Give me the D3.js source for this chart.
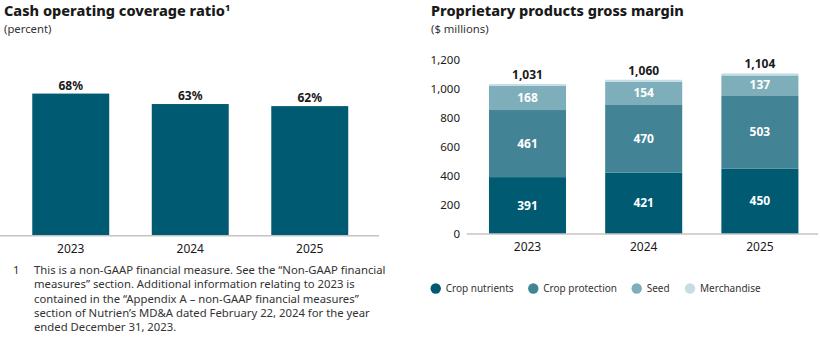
<!DOCTYPE html>
<meta charset="utf-8">
<style>
body{ margin:0; background-color:white; }
text{ font-family:"Noto Sans", "Open Sans", sans-serif; }
</style>
<body>
<svg class="chart"></svg>
<script src="https://cdn.jsdelivr.net/npm/d3@7"></script>
<script>
// left chart data
var years = ["2023", "2024", "2025"];
var coverage = [68, 63, 62];

// right chart data
var seriesNames = ["Crop nutrients", "Crop protection", "Seed", "Merchandise"];
var cropNutrients = [391, 421, 450];
var cropProtection = [461, 470, 503];
var seed = [168, 154, 137];
var merchandise = [11, 15, 14];
var totals = [1031, 1060, 1104];
var yTicks = [0, 200, 400, 600, 800, 1000, 1200];

var colors = ["#005a72", "#428396", "#7eaeba", "#c5dde3"];

var footnote = [
  "This is a non-GAAP financial measure. See the \u201cNon-GAAP financial",
  "measures\u201d section. Additional information relating to 2023 is",
  "contained in the \u201cAppendix A \u2013 non-GAAP financial measures\u201d",
  "section of Nutrien\u2019s MD&A dated February 22, 2024 for the year",
  "ended December 31, 2023."
];

var svg = d3.select("svg").attr("width", 820).attr("height", 337);

drawLeft();
drawRight();

function drawLeft () {
  var g = svg.append("g");

  g.append("text").attr("x", 4).attr("y", 16)
    .attr("font-size", "14.5px").attr("font-weight", 800).attr("fill", "#1a1a1a")
    .text("Cash operating coverage ratio")
    .append("tspan").attr("font-size", "9px").attr("dy", -5).text("1");
  g.append("text").attr("x", 4).attr("y", 32.5)
    .attr("font-size", "11.3px").attr("fill", "#333").text("(percent)");

  var x = d3.scaleBand().domain(years).range([11, 369.5])
    .paddingInner(0.356).paddingOuter(0.178);
  var y = d3.scaleLinear().domain([0, 100]).range([235.7, 26.7]);

  g.selectAll("rect.bar")
    .data(coverage)
    .enter()
    .append("rect")
    .attr("class", "bar")
    .attr("x", function (d, i) { return x(years[i]); })
    .attr("width", x.bandwidth())
    .attr("y", function (d) { return y(d); })
    .attr("height", function (d) { return y(0) - y(d); })
    .attr("fill", colors[0]);

  g.selectAll("text.val")
    .data(coverage)
    .enter()
    .append("text")
    .attr("class", "val")
    .attr("x", function (d, i) { return x(years[i]) + x.bandwidth() / 2; })
    .attr("y", function (d) { return y(d) - 4; })
    .attr("text-anchor", "middle")
    .attr("font-size", "12px").attr("font-weight", 700).attr("fill", "#1a1a1a")
    .text(function (d) { return d + "%"; });

  g.append("line").attr("x1", 0).attr("x2", 379)
    .attr("y1", y(0)).attr("y2", y(0))
    .attr("stroke", "#c4c4c4").attr("stroke-width", 1.5);

  g.selectAll("text.year")
    .data(years)
    .enter()
    .append("text")
    .attr("class", "year")
    .attr("x", function (d) { return x(d) + x.bandwidth() / 2; })
    .attr("y", 253)
    .attr("text-anchor", "middle")
    .attr("font-size", "12px").attr("fill", "#1a1a1a")
    .text(function (d) { return d; });

  g.append("text").attr("x", 13).attr("y", 274)
    .attr("font-size", "11.3px").attr("fill", "#333").text("1");
  g.selectAll("text.note")
    .data(footnote)
    .enter()
    .append("text")
    .attr("class", "note")
    .attr("x", 34)
    .attr("y", function (d, i) { return 274 + i * 14.3; })
    .attr("font-size", "11.3px").attr("fill", "#333")
    .text(function (d) { return d; });
}

function drawRight () {
  var g = svg.append("g");

  g.append("text").attr("x", 431).attr("y", 16)
    .attr("font-size", "14.5px").attr("font-weight", 800).attr("fill", "#1a1a1a")
    .text("Proprietary products gross margin");
  g.append("text").attr("x", 431).attr("y", 32.5)
    .attr("font-size", "11.3px").attr("fill", "#333").text("($ millions)");

  var x = d3.scaleBand().domain(years).range([469.4, 818])
    .paddingInner(0.337).paddingOuter(0.1685);
  var y = d3.scaleLinear().domain([0, 1200]).range([234, 59.4]);

  var table = years.map(function (yr, i) {
    return { year: yr, s0: cropNutrients[i], s1: cropProtection[i], s2: seed[i], s3: merchandise[i] };
  });
  var stacked = d3.stack().keys(["s0", "s1", "s2", "s3"])(table);

  var layers = g.selectAll("g.layer")
    .data(stacked)
    .enter()
    .append("g")
    .attr("class", "layer")
    .attr("fill", function (d, i) { return colors[i]; });

  layers.selectAll("rect")
    .data(function (d) { return d; })
    .enter()
    .append("rect")
    .attr("x", function (d) { return x(d.data.year); })
    .attr("width", x.bandwidth())
    .attr("y", function (d) { return y(d[1]); })
    .attr("height", function (d) { return y(d[0]) - y(d[1]); });

  // labels inside segments (not merchandise)
  stacked.slice(0, 3).forEach(function (layer) {
    g.selectAll(null)
      .data(layer)
      .enter()
      .append("text")
      .attr("x", function (d) { return x(d.data.year) + x.bandwidth() / 2; })
      .attr("y", function (d) { return (y(d[0]) + y(d[1])) / 2 + 4; })
      .attr("text-anchor", "middle")
      .attr("font-size", "12px").attr("font-weight", 700).attr("fill", "white")
      .text(function (d) { return d[1] - d[0]; });
  });

  g.selectAll("text.total")
    .data(totals)
    .enter()
    .append("text")
    .attr("class", "total")
    .attr("x", function (d, i) { return x(years[i]) + x.bandwidth() / 2; })
    .attr("y", function (d) { return y(d) - 5; })
    .attr("text-anchor", "middle")
    .attr("font-size", "12px").attr("font-weight", 700).attr("fill", "#1a1a1a")
    .text(function (d) { return d3.format(",")(d); });

  var yAxis = g.append("g")
    .attr("transform", "translate(466,0)")
    .call(d3.axisLeft(y).tickValues(yTicks).tickSize(0).tickPadding(6).tickFormat(d3.format(",")));
  yAxis.select(".domain").remove();
  yAxis.selectAll("text")
    .attr("font-family", "Noto Sans, sans-serif")
    .attr("font-size", "11.5px").attr("fill", "#1a1a1a");

  g.append("line").attr("x1", 466.7).attr("x2", 818)
    .attr("y1", y(0)).attr("y2", y(0))
    .attr("stroke", "#c4c4c4").attr("stroke-width", 1.5);

  g.selectAll("text.year")
    .data(years)
    .enter()
    .append("text")
    .attr("class", "year")
    .attr("x", function (d) { return x(d) + x.bandwidth() / 2; })
    .attr("y", 251)
    .attr("text-anchor", "middle")
    .attr("font-size", "12px").attr("fill", "#1a1a1a")
    .text(function (d) { return d; });

  // legend
  var legendX = [435.7, 533.3, 636.7, 690];
  var leg = g.selectAll("g.leg")
    .data(seriesNames)
    .enter()
    .append("g")
    .attr("class", "leg")
    .attr("transform", function (d, i) { return "translate(" + legendX[i] + ",288.5)"; });
  leg.append("circle").attr("r", 5.2)
    .attr("fill", function (d, i) { return colors[i]; });
  leg.append("text").attr("x", 10).attr("y", 3.5)
    .attr("font-size", "10px").attr("fill", "#333")
    .text(function (d) { return d; });
}
</script>
</body>
</html>
